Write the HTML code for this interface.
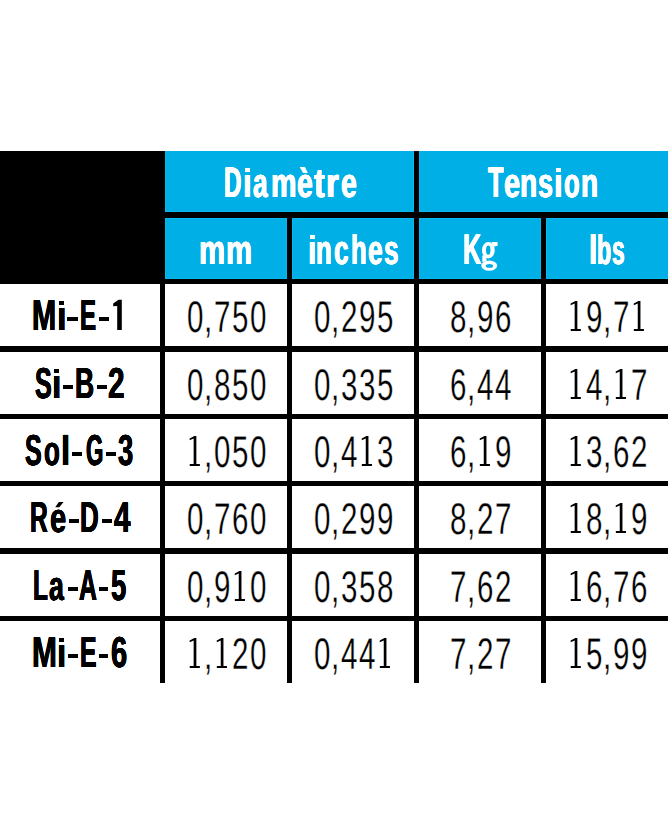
<!DOCTYPE html>
<html><head><meta charset="utf-8"><style>
html,body{margin:0;padding:0;background:#fff;}
body{width:668px;height:835px;position:relative;overflow:hidden;font-family:"Liberation Sans",sans-serif;}
body>div{position:absolute;}
.g{font-weight:700;color:#000;white-space:nowrap;transform-origin:0 0;text-rendering:geometricPrecision;}
.n{font-weight:400;color:#000;white-space:nowrap;transform-origin:0 0;text-rendering:geometricPrecision;}
.t{text-align:center;white-space:nowrap;box-sizing:border-box;text-rendering:geometricPrecision;}
</style></head><body>
<div style="left:0px;top:151px;width:668px;height:532px;background:#000"></div>
<div style="left:165px;top:151px;width:249px;height:61px;background:#00afe6;box-sizing:border-box;border-left:1px solid #04b9ee;border-right:1px solid #04b9ee;border-bottom:1px solid #04b9ee;"></div>
<div style="left:419px;top:151px;width:249px;height:61px;background:#00afe6;box-sizing:border-box;border-left:1px solid #04b9ee;border-bottom:1px solid #04b9ee;"></div>
<div style="left:165px;top:218px;width:122px;height:61px;background:#00afe6;box-sizing:border-box;border-left:1px solid #04b9ee;border-top:1px solid #04b9ee;border-bottom:1px solid #04b9ee;border-right:1px solid #04b9ee;"></div>
<div style="left:292px;top:218px;width:122px;height:61px;background:#00afe6;box-sizing:border-box;border-left:1px solid #04b9ee;border-top:1px solid #04b9ee;border-bottom:1px solid #04b9ee;border-right:1px solid #04b9ee;"></div>
<div style="left:419px;top:218px;width:122px;height:61px;background:#00afe6;box-sizing:border-box;border-left:1px solid #04b9ee;border-top:1px solid #04b9ee;border-bottom:1px solid #04b9ee;border-right:1px solid #04b9ee;"></div>
<div style="left:546px;top:218px;width:122px;height:61px;background:#00afe6;box-sizing:border-box;border-left:1px solid #04b9ee;border-top:1px solid #04b9ee;border-bottom:1px solid #04b9ee;"></div>
<div style="left:0px;top:284px;width:160px;height:62px;background:#fff"></div>
<div style="left:165px;top:284px;width:122px;height:62px;background:#fff"></div>
<div style="left:292px;top:284px;width:122px;height:62px;background:#fff"></div>
<div style="left:419px;top:284px;width:122px;height:62px;background:#fff"></div>
<div style="left:546px;top:284px;width:122px;height:62px;background:#fff"></div>
<div style="left:0px;top:352px;width:160px;height:62px;background:#fff"></div>
<div style="left:165px;top:352px;width:122px;height:62px;background:#fff"></div>
<div style="left:292px;top:352px;width:122px;height:62px;background:#fff"></div>
<div style="left:419px;top:352px;width:122px;height:62px;background:#fff"></div>
<div style="left:546px;top:352px;width:122px;height:62px;background:#fff"></div>
<div style="left:0px;top:419px;width:160px;height:62px;background:#fff"></div>
<div style="left:165px;top:419px;width:122px;height:62px;background:#fff"></div>
<div style="left:292px;top:419px;width:122px;height:62px;background:#fff"></div>
<div style="left:419px;top:419px;width:122px;height:62px;background:#fff"></div>
<div style="left:546px;top:419px;width:122px;height:62px;background:#fff"></div>
<div style="left:0px;top:486px;width:160px;height:62px;background:#fff"></div>
<div style="left:165px;top:486px;width:122px;height:62px;background:#fff"></div>
<div style="left:292px;top:486px;width:122px;height:62px;background:#fff"></div>
<div style="left:419px;top:486px;width:122px;height:62px;background:#fff"></div>
<div style="left:546px;top:486px;width:122px;height:62px;background:#fff"></div>
<div style="left:0px;top:554px;width:160px;height:62px;background:#fff"></div>
<div style="left:165px;top:554px;width:122px;height:62px;background:#fff"></div>
<div style="left:292px;top:554px;width:122px;height:62px;background:#fff"></div>
<div style="left:419px;top:554px;width:122px;height:62px;background:#fff"></div>
<div style="left:546px;top:554px;width:122px;height:62px;background:#fff"></div>
<div style="left:0px;top:621px;width:160px;height:62px;background:#fff"></div>
<div style="left:165px;top:621px;width:122px;height:62px;background:#fff"></div>
<div style="left:292px;top:621px;width:122px;height:62px;background:#fff"></div>
<div style="left:419px;top:621px;width:122px;height:62px;background:#fff"></div>
<div style="left:546px;top:621px;width:122px;height:62px;background:#fff"></div>
<div class="g" style="left:223.86px;top:158.00px;height:51.60px;line-height:51.60px;font-size:43.0px;color:#fff;transform:scaleX(0.5626);text-shadow:0.5px 0 0 #fff,-0.5px 0 0 #fff,0.25px 0 0 #fff,-0.25px 0 0 #fff;">D</div>
<div style="left:245.00px;top:168.10px;width:5.00px;height:3.70px;background:#fff"></div>
<div class="g" style="left:243.16px;top:158.00px;height:51.60px;line-height:51.60px;font-size:43.0px;color:#fff;transform:scale(0.7246,0.96);transform-origin:0 39px;text-shadow:0.5px 0 0 #fff,-0.5px 0 0 #fff,0.25px 0 0 #fff,-0.25px 0 0 #fff;">ı</div>
<div class="g" style="left:253.04px;top:158.00px;height:51.60px;line-height:51.60px;font-size:43.0px;color:#fff;transform:scale(0.6060,0.96);transform-origin:0 39px;text-shadow:0.5px 0 0 #fff,-0.5px 0 0 #fff,0.25px 0 0 #fff,-0.25px 0 0 #fff;">a</div>
<div class="g" style="left:270.64px;top:158.00px;height:51.60px;line-height:51.60px;font-size:43.0px;color:#fff;transform:scale(0.6670,0.96);transform-origin:0 39px;text-shadow:0.5px 0 0 #fff,-0.5px 0 0 #fff,0.25px 0 0 #fff,-0.25px 0 0 #fff;">m</div>
<svg style="position:absolute;left:160px;top:151px" width="260" height="61"><polygon points="139.70,16.10 145.00,16.10 147.80,21.90 143.10,21.90" fill="#fff"/></svg>
<div class="g" style="left:297.32px;top:158.00px;height:51.60px;line-height:51.60px;font-size:43.0px;color:#fff;transform:scale(0.6616,0.96);transform-origin:0 39px;text-shadow:0.5px 0 0 #fff,-0.5px 0 0 #fff,0.25px 0 0 #fff,-0.25px 0 0 #fff;">e</div>
<div class="g" style="left:314.08px;top:158.00px;height:51.60px;line-height:51.60px;font-size:43.0px;color:#fff;transform:scale(0.7498,0.96);transform-origin:0 39px;text-shadow:0.5px 0 0 #fff,-0.5px 0 0 #fff,0.25px 0 0 #fff,-0.25px 0 0 #fff;">t</div>
<div class="g" style="left:325.91px;top:158.00px;height:51.60px;line-height:51.60px;font-size:43.0px;color:#fff;transform:scale(0.7650,0.96);transform-origin:0 39px;text-shadow:0.5px 0 0 #fff,-0.5px 0 0 #fff,0.25px 0 0 #fff,-0.25px 0 0 #fff;">r</div>
<div class="g" style="left:340.52px;top:158.00px;height:51.60px;line-height:51.60px;font-size:43.0px;color:#fff;transform:scale(0.6616,0.96);transform-origin:0 39px;text-shadow:0.5px 0 0 #fff,-0.5px 0 0 #fff,0.25px 0 0 #fff,-0.25px 0 0 #fff;">e</div>
<div class="g" style="left:488.41px;top:158.00px;height:51.60px;line-height:51.60px;font-size:43.0px;color:#fff;transform:scaleX(0.5889);text-shadow:0.5px 0 0 #fff,-0.5px 0 0 #fff,0.25px 0 0 #fff,-0.25px 0 0 #fff;">T</div>
<div class="g" style="left:504.11px;top:158.00px;height:51.60px;line-height:51.60px;font-size:43.0px;color:#fff;transform:scale(0.6708,0.96);transform-origin:0 39px;text-shadow:0.5px 0 0 #fff,-0.5px 0 0 #fff,0.25px 0 0 #fff,-0.25px 0 0 #fff;">e</div>
<div class="g" style="left:520.17px;top:158.00px;height:51.60px;line-height:51.60px;font-size:43.0px;color:#fff;transform:scale(0.6570,0.96);transform-origin:0 39px;text-shadow:0.5px 0 0 #fff,-0.5px 0 0 #fff,0.25px 0 0 #fff,-0.25px 0 0 #fff;">n</div>
<div class="g" style="left:538.37px;top:158.00px;height:51.60px;line-height:51.60px;font-size:43.0px;color:#fff;transform:scale(0.6239,0.96);transform-origin:0 39px;text-shadow:0.5px 0 0 #fff,-0.5px 0 0 #fff,0.25px 0 0 #fff,-0.25px 0 0 #fff;">s</div>
<div style="left:556.00px;top:168.10px;width:5.00px;height:3.70px;background:#fff"></div>
<div class="g" style="left:554.16px;top:158.00px;height:51.60px;line-height:51.60px;font-size:43.0px;color:#fff;transform:scale(0.7246,0.96);transform-origin:0 39px;text-shadow:0.5px 0 0 #fff,-0.5px 0 0 #fff,0.25px 0 0 #fff,-0.25px 0 0 #fff;">ı</div>
<div class="g" style="left:564.20px;top:158.00px;height:51.60px;line-height:51.60px;font-size:43.0px;color:#fff;transform:scale(0.5940,0.96);transform-origin:0 39px;text-shadow:0.5px 0 0 #fff,-0.5px 0 0 #fff,0.25px 0 0 #fff,-0.25px 0 0 #fff;">o</div>
<div class="g" style="left:581.28px;top:158.00px;height:51.60px;line-height:51.60px;font-size:43.0px;color:#fff;transform:scale(0.6524,0.96);transform-origin:0 39px;text-shadow:0.5px 0 0 #fff,-0.5px 0 0 #fff,0.25px 0 0 #fff,-0.25px 0 0 #fff;">n</div>
<div class="g" style="left:199.37px;top:225.00px;height:51.60px;line-height:51.60px;font-size:43.0px;color:#fff;transform:scale(0.6840,0.96);transform-origin:0 39px;text-shadow:0.3px 0 0 #fff,-0.3px 0 0 #fff,0.15px 0 0 #fff,-0.15px 0 0 #fff;">m</div>
<div class="g" style="left:226.27px;top:225.00px;height:51.60px;line-height:51.60px;font-size:43.0px;color:#fff;transform:scale(0.6840,0.96);transform-origin:0 39px;text-shadow:0.3px 0 0 #fff,-0.3px 0 0 #fff,0.15px 0 0 #fff,-0.15px 0 0 #fff;">m</div>
<div style="left:310.10px;top:235.10px;width:4.50px;height:3.70px;background:#fff"></div>
<div class="g" style="left:308.20px;top:225.00px;height:51.60px;line-height:51.60px;font-size:43.0px;color:#fff;transform:scale(0.6923,0.96);transform-origin:0 39px;text-shadow:0.3px 0 0 #fff,-0.3px 0 0 #fff,0.15px 0 0 #fff,-0.15px 0 0 #fff;">ı</div>
<div class="g" style="left:316.28px;top:225.00px;height:51.60px;line-height:51.60px;font-size:43.0px;color:#fff;transform:scale(0.5991,0.96);transform-origin:0 39px;text-shadow:0.3px 0 0 #fff,-0.3px 0 0 #fff,0.15px 0 0 #fff,-0.15px 0 0 #fff;">n</div>
<div class="g" style="left:334.26px;top:225.00px;height:51.60px;line-height:51.60px;font-size:43.0px;color:#fff;transform:scale(0.6118,0.96);transform-origin:0 39px;text-shadow:0.3px 0 0 #fff,-0.3px 0 0 #fff,0.15px 0 0 #fff,-0.15px 0 0 #fff;">c</div>
<div class="g" style="left:350.59px;top:225.00px;height:51.60px;line-height:51.60px;font-size:43.0px;color:#fff;transform:scale(0.5944,0.96);transform-origin:0 39px;text-shadow:0.3px 0 0 #fff,-0.3px 0 0 #fff,0.15px 0 0 #fff,-0.15px 0 0 #fff;">h</div>
<div class="g" style="left:368.25px;top:225.00px;height:51.60px;line-height:51.60px;font-size:43.0px;color:#fff;transform:scale(0.6131,0.96);transform-origin:0 39px;text-shadow:0.3px 0 0 #fff,-0.3px 0 0 #fff,0.15px 0 0 #fff,-0.15px 0 0 #fff;">e</div>
<div class="g" style="left:384.36px;top:225.00px;height:51.60px;line-height:51.60px;font-size:43.0px;color:#fff;transform:scale(0.6074,0.96);transform-origin:0 39px;text-shadow:0.3px 0 0 #fff,-0.3px 0 0 #fff,0.15px 0 0 #fff,-0.15px 0 0 #fff;">s</div>
<div class="g" style="left:462.50px;top:225.00px;height:51.60px;line-height:51.60px;font-size:43.0px;color:#fff;transform:scaleX(0.5814);text-shadow:0.3px 0 0 #fff,-0.3px 0 0 #fff,0.15px 0 0 #fff,-0.15px 0 0 #fff;">K</div>
<svg style="position:absolute;left:419px;top:218px" width="122" height="61"><path fill="#fff" fill-rule="evenodd" d="M62.90,32.30 a6.45,8.2 0 1,0 12.9,0 a6.45,8.2 0 1,0 -12.9,0 Z M67.00,32.15 a2.25,4.65 0 1,0 4.5,0 a2.25,4.65 0 1,0 -4.5,0 Z"/><path fill="#fff" fill-rule="evenodd" d="M62.20,47.60 a8.0,5.2 0 1,0 16.0,0 a8.0,5.2 0 1,0 -16.0,0 Z M66.80,47.95 a3.65,1.85 0 1,0 7.3,0 a3.65,1.85 0 1,0 -7.3,0 Z"/><g fill="#fff"><polygon points="72.50,24.10 78.60,24.10 78.60,27.80 74.50,28.80"/><polygon points="63.30,37.50 67.50,37.50 67.50,43.30 63.30,44.00"/></g></svg>
<div class="g" style="left:588.93px;top:225.00px;height:51.60px;line-height:51.60px;font-size:43.0px;color:#fff;transform:scale(0.6923,0.96);transform-origin:0 39px;text-shadow:0.3px 0 0 #fff,-0.3px 0 0 #fff,0.15px 0 0 #fff,-0.15px 0 0 #fff;">l</div>
<div class="g" style="left:597.43px;top:225.00px;height:51.60px;line-height:51.60px;font-size:43.0px;color:#fff;transform:scale(0.5389,0.96);transform-origin:0 39px;text-shadow:0.3px 0 0 #fff,-0.3px 0 0 #fff,0.15px 0 0 #fff,-0.15px 0 0 #fff;">b</div>
<div class="g" style="left:611.66px;top:225.00px;height:51.60px;line-height:51.60px;font-size:43.0px;color:#fff;transform:scale(0.5273,0.96);transform-origin:0 39px;text-shadow:0.3px 0 0 #fff,-0.3px 0 0 #fff,0.15px 0 0 #fff,-0.15px 0 0 #fff;">s</div>
<div class="g" style="left:32.33px;top:291.00px;height:51.84px;line-height:51.84px;font-size:43.2px;transform:scaleX(0.6709);text-shadow:0.25px 0 0 #000,-0.25px 0 0 #000,0.125px 0 0 #000,-0.125px 0 0 #000;">M</div>
<div style="left:59.00px;top:301.00px;width:5.10px;height:3.60px;background:#000"></div>
<div class="g" style="left:56.77px;top:291.00px;height:51.84px;line-height:51.84px;font-size:43.2px;transform:scale(0.7935,0.96);transform-origin:0 39px;text-shadow:0.25px 0 0 #000,-0.25px 0 0 #000,0.125px 0 0 #000,-0.125px 0 0 #000;">ı</div>
<div style="left:67.40px;top:317.40px;width:10.20px;height:3.50px;background:#000"></div>
<div class="g" style="left:79.93px;top:291.00px;height:51.84px;line-height:51.84px;font-size:43.2px;transform:scaleX(0.5579);text-shadow:0.25px 0 0 #000,-0.25px 0 0 #000,0.125px 0 0 #000,-0.125px 0 0 #000;">E</div>
<div style="left:99.00px;top:317.40px;width:9.70px;height:3.50px;background:#000"></div>
<svg style="position:absolute;left:0px;top:284px" width="160" height="62"><polygon points="121.80,15.80 121.80,46.00 117.20,46.00 117.20,22.00 113.20,22.30 113.20,19.40 118.50,15.80" fill="#000"/></svg>
<div class="n" style="left:186.73px;top:291.00px;height:53.16px;line-height:53.16px;font-size:44.3px;transform:scaleX(0.6670);-webkit-text-stroke:0.3px #fff;">0</div>
<div class="n" style="left:204.40px;top:291.00px;height:53.16px;line-height:53.16px;font-size:44.3px;transform:scaleX(0.6670);-webkit-text-stroke:0.3px #fff;">,</div>
<div class="n" style="left:213.82px;top:291.00px;height:53.16px;line-height:53.16px;font-size:44.3px;transform:scaleX(0.6670);-webkit-text-stroke:0.3px #fff;">7</div>
<div class="n" style="left:231.86px;top:291.00px;height:53.16px;line-height:53.16px;font-size:44.3px;transform:scaleX(0.6670);-webkit-text-stroke:0.3px #fff;">5</div>
<div class="n" style="left:249.83px;top:291.00px;height:53.16px;line-height:53.16px;font-size:44.3px;transform:scaleX(0.6670);-webkit-text-stroke:0.3px #fff;">0</div>
<div class="n" style="left:313.73px;top:291.00px;height:53.16px;line-height:53.16px;font-size:44.3px;transform:scaleX(0.6670);-webkit-text-stroke:0.3px #fff;">0</div>
<div class="n" style="left:331.40px;top:291.00px;height:53.16px;line-height:53.16px;font-size:44.3px;transform:scaleX(0.6670);-webkit-text-stroke:0.3px #fff;">,</div>
<div class="n" style="left:340.83px;top:291.00px;height:53.16px;line-height:53.16px;font-size:44.3px;transform:scaleX(0.6670);-webkit-text-stroke:0.3px #fff;">2</div>
<div class="n" style="left:358.84px;top:291.00px;height:53.16px;line-height:53.16px;font-size:44.3px;transform:scaleX(0.6670);-webkit-text-stroke:0.3px #fff;">9</div>
<div class="n" style="left:376.86px;top:291.00px;height:53.16px;line-height:53.16px;font-size:44.3px;transform:scaleX(0.6670);-webkit-text-stroke:0.3px #fff;">5</div>
<div class="n" style="left:449.73px;top:291.00px;height:53.16px;line-height:53.16px;font-size:44.3px;transform:scaleX(0.6670);-webkit-text-stroke:0.3px #fff;">8</div>
<div class="n" style="left:467.40px;top:291.00px;height:53.16px;line-height:53.16px;font-size:44.3px;transform:scaleX(0.6670);-webkit-text-stroke:0.3px #fff;">,</div>
<div class="n" style="left:476.84px;top:291.00px;height:53.16px;line-height:53.16px;font-size:44.3px;transform:scaleX(0.6670);-webkit-text-stroke:0.3px #fff;">9</div>
<div class="n" style="left:494.73px;top:291.00px;height:53.16px;line-height:53.16px;font-size:44.3px;transform:scaleX(0.6670);-webkit-text-stroke:0.3px #fff;">6</div>
<svg style="position:absolute;left:546px;top:284px" width="122" height="62"><polygon points="29.35,17.10 31.35,17.10 31.35,44.90 34.85,44.90 34.85,47.00 24.75,47.00 24.75,44.90 28.65,44.90 28.65,19.60 24.65,21.20 24.65,19.50" fill="#000"/></svg>
<div class="n" style="left:585.74px;top:291.00px;height:53.16px;line-height:53.16px;font-size:44.3px;transform:scaleX(0.6670);-webkit-text-stroke:0.3px #fff;">9</div>
<div class="n" style="left:603.40px;top:291.00px;height:53.16px;line-height:53.16px;font-size:44.3px;transform:scaleX(0.6670);-webkit-text-stroke:0.3px #fff;">,</div>
<div class="n" style="left:612.82px;top:291.00px;height:53.16px;line-height:53.16px;font-size:44.3px;transform:scaleX(0.6670);-webkit-text-stroke:0.3px #fff;">7</div>
<svg style="position:absolute;left:546px;top:284px" width="122" height="62"><polygon points="92.45,17.10 94.45,17.10 94.45,44.90 97.95,44.90 97.95,47.00 87.85,47.00 87.85,44.90 91.75,44.90 91.75,19.60 87.75,21.20 87.75,19.50" fill="#000"/></svg>
<div class="g" style="left:34.52px;top:359.00px;height:51.84px;line-height:51.84px;font-size:43.2px;transform:scaleX(0.5799);text-shadow:0.25px 0 0 #000,-0.25px 0 0 #000,0.125px 0 0 #000,-0.125px 0 0 #000;">S</div>
<div style="left:54.00px;top:369.00px;width:5.00px;height:3.60px;background:#000"></div>
<div class="g" style="left:51.82px;top:359.00px;height:51.84px;line-height:51.84px;font-size:43.2px;transform:scale(0.7779,0.96);transform-origin:0 39px;text-shadow:0.25px 0 0 #000,-0.25px 0 0 #000,0.125px 0 0 #000,-0.125px 0 0 #000;">ı</div>
<div style="left:62.90px;top:385.40px;width:10.10px;height:3.50px;background:#000"></div>
<div class="g" style="left:75.18px;top:359.00px;height:51.84px;line-height:51.84px;font-size:43.2px;transform:scaleX(0.6146);text-shadow:0.25px 0 0 #000,-0.25px 0 0 #000,0.125px 0 0 #000,-0.125px 0 0 #000;">B</div>
<div style="left:96.70px;top:385.40px;width:10.10px;height:3.50px;background:#000"></div>
<div class="g" style="left:108.44px;top:359.00px;height:51.84px;line-height:51.84px;font-size:43.2px;transform:scaleX(0.6902);text-shadow:0.25px 0 0 #000,-0.25px 0 0 #000,0.125px 0 0 #000,-0.125px 0 0 #000;">2</div>
<div class="n" style="left:186.73px;top:359.00px;height:53.16px;line-height:53.16px;font-size:44.3px;transform:scaleX(0.6670);-webkit-text-stroke:0.3px #fff;">0</div>
<div class="n" style="left:204.40px;top:359.00px;height:53.16px;line-height:53.16px;font-size:44.3px;transform:scaleX(0.6670);-webkit-text-stroke:0.3px #fff;">,</div>
<div class="n" style="left:213.83px;top:359.00px;height:53.16px;line-height:53.16px;font-size:44.3px;transform:scaleX(0.6670);-webkit-text-stroke:0.3px #fff;">8</div>
<div class="n" style="left:231.86px;top:359.00px;height:53.16px;line-height:53.16px;font-size:44.3px;transform:scaleX(0.6670);-webkit-text-stroke:0.3px #fff;">5</div>
<div class="n" style="left:249.83px;top:359.00px;height:53.16px;line-height:53.16px;font-size:44.3px;transform:scaleX(0.6670);-webkit-text-stroke:0.3px #fff;">0</div>
<div class="n" style="left:313.73px;top:359.00px;height:53.16px;line-height:53.16px;font-size:44.3px;transform:scaleX(0.6670);-webkit-text-stroke:0.3px #fff;">0</div>
<div class="n" style="left:331.40px;top:359.00px;height:53.16px;line-height:53.16px;font-size:44.3px;transform:scaleX(0.6670);-webkit-text-stroke:0.3px #fff;">,</div>
<div class="n" style="left:340.92px;top:359.00px;height:53.16px;line-height:53.16px;font-size:44.3px;transform:scaleX(0.6670);-webkit-text-stroke:0.3px #fff;">3</div>
<div class="n" style="left:358.92px;top:359.00px;height:53.16px;line-height:53.16px;font-size:44.3px;transform:scaleX(0.6670);-webkit-text-stroke:0.3px #fff;">3</div>
<div class="n" style="left:376.86px;top:359.00px;height:53.16px;line-height:53.16px;font-size:44.3px;transform:scaleX(0.6670);-webkit-text-stroke:0.3px #fff;">5</div>
<div class="n" style="left:449.63px;top:359.00px;height:53.16px;line-height:53.16px;font-size:44.3px;transform:scaleX(0.6670);-webkit-text-stroke:0.3px #fff;">6</div>
<div class="n" style="left:467.40px;top:359.00px;height:53.16px;line-height:53.16px;font-size:44.3px;transform:scaleX(0.6670);-webkit-text-stroke:0.3px #fff;">,</div>
<div class="n" style="left:476.93px;top:359.00px;height:53.16px;line-height:53.16px;font-size:44.3px;transform:scaleX(0.6670);-webkit-text-stroke:0.3px #fff;">4</div>
<div class="n" style="left:494.93px;top:359.00px;height:53.16px;line-height:53.16px;font-size:44.3px;transform:scaleX(0.6670);-webkit-text-stroke:0.3px #fff;">4</div>
<svg style="position:absolute;left:546px;top:352px" width="122" height="62"><polygon points="29.35,17.10 31.35,17.10 31.35,44.90 34.85,44.90 34.85,47.00 24.75,47.00 24.75,44.90 28.65,44.90 28.65,19.60 24.65,21.20 24.65,19.50" fill="#000"/></svg>
<div class="n" style="left:585.83px;top:359.00px;height:53.16px;line-height:53.16px;font-size:44.3px;transform:scaleX(0.6670);-webkit-text-stroke:0.3px #fff;">4</div>
<div class="n" style="left:603.40px;top:359.00px;height:53.16px;line-height:53.16px;font-size:44.3px;transform:scaleX(0.6670);-webkit-text-stroke:0.3px #fff;">,</div>
<svg style="position:absolute;left:546px;top:352px" width="122" height="62"><polygon points="74.45,17.10 76.45,17.10 76.45,44.90 79.95,44.90 79.95,47.00 69.85,47.00 69.85,44.90 73.75,44.90 73.75,19.60 69.75,21.20 69.75,19.50" fill="#000"/></svg>
<div class="n" style="left:630.82px;top:359.00px;height:53.16px;line-height:53.16px;font-size:44.3px;transform:scaleX(0.6670);-webkit-text-stroke:0.3px #fff;">7</div>
<div class="g" style="left:25.42px;top:426.00px;height:51.84px;line-height:51.84px;font-size:43.2px;transform:scaleX(0.5799);text-shadow:0.25px 0 0 #000,-0.25px 0 0 #000,0.125px 0 0 #000,-0.125px 0 0 #000;">S</div>
<div class="g" style="left:44.34px;top:426.00px;height:51.84px;line-height:51.84px;font-size:43.2px;transform:scale(0.5997,0.96);transform-origin:0 39px;text-shadow:0.25px 0 0 #000,-0.25px 0 0 #000,0.125px 0 0 #000,-0.125px 0 0 #000;">o</div>
<div class="g" style="left:60.99px;top:426.00px;height:51.84px;line-height:51.84px;font-size:43.2px;transform:scale(0.7624,0.96);transform-origin:0 39px;text-shadow:0.25px 0 0 #000,-0.25px 0 0 #000,0.125px 0 0 #000,-0.125px 0 0 #000;">l</div>
<div style="left:71.90px;top:452.40px;width:9.90px;height:3.50px;background:#000"></div>
<div class="g" style="left:85.71px;top:426.00px;height:51.84px;line-height:51.84px;font-size:43.2px;transform:scaleX(0.5160);text-shadow:0.25px 0 0 #000,-0.25px 0 0 #000,0.125px 0 0 #000,-0.125px 0 0 #000;">G</div>
<div style="left:105.90px;top:452.40px;width:9.80px;height:3.50px;background:#000"></div>
<div class="g" style="left:118.43px;top:426.00px;height:51.84px;line-height:51.84px;font-size:43.2px;transform:scaleX(0.6326);text-shadow:0.25px 0 0 #000,-0.25px 0 0 #000,0.125px 0 0 #000,-0.125px 0 0 #000;">3</div>
<svg style="position:absolute;left:165px;top:419px" width="122" height="62"><polygon points="29.35,17.10 31.35,17.10 31.35,44.90 34.85,44.90 34.85,47.00 24.75,47.00 24.75,44.90 28.65,44.90 28.65,19.60 24.65,21.20 24.65,19.50" fill="#000"/></svg>
<div class="n" style="left:204.40px;top:426.00px;height:53.16px;line-height:53.16px;font-size:44.3px;transform:scaleX(0.6670);-webkit-text-stroke:0.3px #fff;">,</div>
<div class="n" style="left:213.83px;top:426.00px;height:53.16px;line-height:53.16px;font-size:44.3px;transform:scaleX(0.6670);-webkit-text-stroke:0.3px #fff;">0</div>
<div class="n" style="left:231.86px;top:426.00px;height:53.16px;line-height:53.16px;font-size:44.3px;transform:scaleX(0.6670);-webkit-text-stroke:0.3px #fff;">5</div>
<div class="n" style="left:249.83px;top:426.00px;height:53.16px;line-height:53.16px;font-size:44.3px;transform:scaleX(0.6670);-webkit-text-stroke:0.3px #fff;">0</div>
<div class="n" style="left:313.73px;top:426.00px;height:53.16px;line-height:53.16px;font-size:44.3px;transform:scaleX(0.6670);-webkit-text-stroke:0.3px #fff;">0</div>
<div class="n" style="left:331.40px;top:426.00px;height:53.16px;line-height:53.16px;font-size:44.3px;transform:scaleX(0.6670);-webkit-text-stroke:0.3px #fff;">,</div>
<div class="n" style="left:340.93px;top:426.00px;height:53.16px;line-height:53.16px;font-size:44.3px;transform:scaleX(0.6670);-webkit-text-stroke:0.3px #fff;">4</div>
<svg style="position:absolute;left:292px;top:419px" width="122" height="62"><polygon points="74.45,17.10 76.45,17.10 76.45,44.90 79.95,44.90 79.95,47.00 69.85,47.00 69.85,44.90 73.75,44.90 73.75,19.60 69.75,21.20 69.75,19.50" fill="#000"/></svg>
<div class="n" style="left:376.92px;top:426.00px;height:53.16px;line-height:53.16px;font-size:44.3px;transform:scaleX(0.6670);-webkit-text-stroke:0.3px #fff;">3</div>
<div class="n" style="left:449.63px;top:426.00px;height:53.16px;line-height:53.16px;font-size:44.3px;transform:scaleX(0.6670);-webkit-text-stroke:0.3px #fff;">6</div>
<div class="n" style="left:467.40px;top:426.00px;height:53.16px;line-height:53.16px;font-size:44.3px;transform:scaleX(0.6670);-webkit-text-stroke:0.3px #fff;">,</div>
<svg style="position:absolute;left:419px;top:419px" width="122" height="62"><polygon points="65.45,17.10 67.45,17.10 67.45,44.90 70.95,44.90 70.95,47.00 60.85,47.00 60.85,44.90 64.75,44.90 64.75,19.60 60.75,21.20 60.75,19.50" fill="#000"/></svg>
<div class="n" style="left:494.84px;top:426.00px;height:53.16px;line-height:53.16px;font-size:44.3px;transform:scaleX(0.6670);-webkit-text-stroke:0.3px #fff;">9</div>
<svg style="position:absolute;left:546px;top:419px" width="122" height="62"><polygon points="29.35,17.10 31.35,17.10 31.35,44.90 34.85,44.90 34.85,47.00 24.75,47.00 24.75,44.90 28.65,44.90 28.65,19.60 24.65,21.20 24.65,19.50" fill="#000"/></svg>
<div class="n" style="left:585.82px;top:426.00px;height:53.16px;line-height:53.16px;font-size:44.3px;transform:scaleX(0.6670);-webkit-text-stroke:0.3px #fff;">3</div>
<div class="n" style="left:603.40px;top:426.00px;height:53.16px;line-height:53.16px;font-size:44.3px;transform:scaleX(0.6670);-webkit-text-stroke:0.3px #fff;">,</div>
<div class="n" style="left:612.73px;top:426.00px;height:53.16px;line-height:53.16px;font-size:44.3px;transform:scaleX(0.6670);-webkit-text-stroke:0.3px #fff;">6</div>
<div class="n" style="left:630.83px;top:426.00px;height:53.16px;line-height:53.16px;font-size:44.3px;transform:scaleX(0.6670);-webkit-text-stroke:0.3px #fff;">2</div>
<div class="g" style="left:29.90px;top:493.00px;height:51.84px;line-height:51.84px;font-size:43.2px;transform:scaleX(0.5694);text-shadow:0.25px 0 0 #000,-0.25px 0 0 #000,0.125px 0 0 #000,-0.125px 0 0 #000;">R</div>
<svg style="position:absolute;left:0px;top:486px" width="160" height="62"><polygon points="58.80,16.00 63.60,16.00 59.30,21.30 55.20,21.30" fill="#000"/></svg>
<div class="g" style="left:49.93px;top:493.00px;height:51.84px;line-height:51.84px;font-size:43.2px;transform:scale(0.6741,0.96);transform-origin:0 39px;text-shadow:0.25px 0 0 #000,-0.25px 0 0 #000,0.125px 0 0 #000,-0.125px 0 0 #000;">e</div>
<div style="left:68.90px;top:519.40px;width:9.90px;height:3.50px;background:#000"></div>
<div class="g" style="left:80.42px;top:493.00px;height:51.84px;line-height:51.84px;font-size:43.2px;transform:scaleX(0.6001);text-shadow:0.25px 0 0 #000,-0.25px 0 0 #000,0.125px 0 0 #000,-0.125px 0 0 #000;">D</div>
<div style="left:101.80px;top:519.40px;width:9.90px;height:3.50px;background:#000"></div>
<div class="g" style="left:114.12px;top:493.00px;height:51.84px;line-height:51.84px;font-size:43.2px;transform:scaleX(0.6853);text-shadow:0.25px 0 0 #000,-0.25px 0 0 #000,0.125px 0 0 #000,-0.125px 0 0 #000;">4</div>
<div class="n" style="left:186.73px;top:493.00px;height:53.16px;line-height:53.16px;font-size:44.3px;transform:scaleX(0.6670);-webkit-text-stroke:0.3px #fff;">0</div>
<div class="n" style="left:204.40px;top:493.00px;height:53.16px;line-height:53.16px;font-size:44.3px;transform:scaleX(0.6670);-webkit-text-stroke:0.3px #fff;">,</div>
<div class="n" style="left:213.82px;top:493.00px;height:53.16px;line-height:53.16px;font-size:44.3px;transform:scaleX(0.6670);-webkit-text-stroke:0.3px #fff;">7</div>
<div class="n" style="left:231.73px;top:493.00px;height:53.16px;line-height:53.16px;font-size:44.3px;transform:scaleX(0.6670);-webkit-text-stroke:0.3px #fff;">6</div>
<div class="n" style="left:249.83px;top:493.00px;height:53.16px;line-height:53.16px;font-size:44.3px;transform:scaleX(0.6670);-webkit-text-stroke:0.3px #fff;">0</div>
<div class="n" style="left:313.73px;top:493.00px;height:53.16px;line-height:53.16px;font-size:44.3px;transform:scaleX(0.6670);-webkit-text-stroke:0.3px #fff;">0</div>
<div class="n" style="left:331.40px;top:493.00px;height:53.16px;line-height:53.16px;font-size:44.3px;transform:scaleX(0.6670);-webkit-text-stroke:0.3px #fff;">,</div>
<div class="n" style="left:340.83px;top:493.00px;height:53.16px;line-height:53.16px;font-size:44.3px;transform:scaleX(0.6670);-webkit-text-stroke:0.3px #fff;">2</div>
<div class="n" style="left:358.84px;top:493.00px;height:53.16px;line-height:53.16px;font-size:44.3px;transform:scaleX(0.6670);-webkit-text-stroke:0.3px #fff;">9</div>
<div class="n" style="left:376.84px;top:493.00px;height:53.16px;line-height:53.16px;font-size:44.3px;transform:scaleX(0.6670);-webkit-text-stroke:0.3px #fff;">9</div>
<div class="n" style="left:449.73px;top:493.00px;height:53.16px;line-height:53.16px;font-size:44.3px;transform:scaleX(0.6670);-webkit-text-stroke:0.3px #fff;">8</div>
<div class="n" style="left:467.40px;top:493.00px;height:53.16px;line-height:53.16px;font-size:44.3px;transform:scaleX(0.6670);-webkit-text-stroke:0.3px #fff;">,</div>
<div class="n" style="left:476.83px;top:493.00px;height:53.16px;line-height:53.16px;font-size:44.3px;transform:scaleX(0.6670);-webkit-text-stroke:0.3px #fff;">2</div>
<div class="n" style="left:494.82px;top:493.00px;height:53.16px;line-height:53.16px;font-size:44.3px;transform:scaleX(0.6670);-webkit-text-stroke:0.3px #fff;">7</div>
<svg style="position:absolute;left:546px;top:486px" width="122" height="62"><polygon points="29.35,17.10 31.35,17.10 31.35,44.90 34.85,44.90 34.85,47.00 24.75,47.00 24.75,44.90 28.65,44.90 28.65,19.60 24.65,21.20 24.65,19.50" fill="#000"/></svg>
<div class="n" style="left:585.73px;top:493.00px;height:53.16px;line-height:53.16px;font-size:44.3px;transform:scaleX(0.6670);-webkit-text-stroke:0.3px #fff;">8</div>
<div class="n" style="left:603.40px;top:493.00px;height:53.16px;line-height:53.16px;font-size:44.3px;transform:scaleX(0.6670);-webkit-text-stroke:0.3px #fff;">,</div>
<svg style="position:absolute;left:546px;top:486px" width="122" height="62"><polygon points="74.45,17.10 76.45,17.10 76.45,44.90 79.95,44.90 79.95,47.00 69.85,47.00 69.85,44.90 73.75,44.90 73.75,19.60 69.75,21.20 69.75,19.50" fill="#000"/></svg>
<div class="n" style="left:630.84px;top:493.00px;height:53.16px;line-height:53.16px;font-size:44.3px;transform:scaleX(0.6670);-webkit-text-stroke:0.3px #fff;">9</div>
<div class="g" style="left:32.61px;top:561.00px;height:51.84px;line-height:51.84px;font-size:43.2px;transform:scaleX(0.5646);text-shadow:0.25px 0 0 #000,-0.25px 0 0 #000,0.125px 0 0 #000,-0.125px 0 0 #000;">L</div>
<div class="g" style="left:48.77px;top:561.00px;height:51.84px;line-height:51.84px;font-size:43.2px;transform:scale(0.6161,0.96);transform-origin:0 39px;text-shadow:0.25px 0 0 #000,-0.25px 0 0 #000,0.125px 0 0 #000,-0.125px 0 0 #000;">a</div>
<div style="left:67.50px;top:587.40px;width:10.40px;height:3.50px;background:#000"></div>
<div class="g" style="left:79.03px;top:561.00px;height:51.84px;line-height:51.84px;font-size:43.2px;transform:scaleX(0.5732);text-shadow:0.25px 0 0 #000,-0.25px 0 0 #000,0.125px 0 0 #000,-0.125px 0 0 #000;">A</div>
<div style="left:99.10px;top:587.40px;width:9.40px;height:3.50px;background:#000"></div>
<div class="g" style="left:111.41px;top:561.00px;height:51.84px;line-height:51.84px;font-size:43.2px;transform:scaleX(0.6365);text-shadow:0.25px 0 0 #000,-0.25px 0 0 #000,0.125px 0 0 #000,-0.125px 0 0 #000;">5</div>
<div class="n" style="left:186.73px;top:561.00px;height:53.16px;line-height:53.16px;font-size:44.3px;transform:scaleX(0.6670);-webkit-text-stroke:0.3px #fff;">0</div>
<div class="n" style="left:204.40px;top:561.00px;height:53.16px;line-height:53.16px;font-size:44.3px;transform:scaleX(0.6670);-webkit-text-stroke:0.3px #fff;">,</div>
<div class="n" style="left:213.84px;top:561.00px;height:53.16px;line-height:53.16px;font-size:44.3px;transform:scaleX(0.6670);-webkit-text-stroke:0.3px #fff;">9</div>
<svg style="position:absolute;left:165px;top:554px" width="122" height="62"><polygon points="74.45,17.10 76.45,17.10 76.45,44.90 79.95,44.90 79.95,47.00 69.85,47.00 69.85,44.90 73.75,44.90 73.75,19.60 69.75,21.20 69.75,19.50" fill="#000"/></svg>
<div class="n" style="left:249.83px;top:561.00px;height:53.16px;line-height:53.16px;font-size:44.3px;transform:scaleX(0.6670);-webkit-text-stroke:0.3px #fff;">0</div>
<div class="n" style="left:313.73px;top:561.00px;height:53.16px;line-height:53.16px;font-size:44.3px;transform:scaleX(0.6670);-webkit-text-stroke:0.3px #fff;">0</div>
<div class="n" style="left:331.40px;top:561.00px;height:53.16px;line-height:53.16px;font-size:44.3px;transform:scaleX(0.6670);-webkit-text-stroke:0.3px #fff;">,</div>
<div class="n" style="left:340.92px;top:561.00px;height:53.16px;line-height:53.16px;font-size:44.3px;transform:scaleX(0.6670);-webkit-text-stroke:0.3px #fff;">3</div>
<div class="n" style="left:358.86px;top:561.00px;height:53.16px;line-height:53.16px;font-size:44.3px;transform:scaleX(0.6670);-webkit-text-stroke:0.3px #fff;">5</div>
<div class="n" style="left:376.83px;top:561.00px;height:53.16px;line-height:53.16px;font-size:44.3px;transform:scaleX(0.6670);-webkit-text-stroke:0.3px #fff;">8</div>
<div class="n" style="left:449.72px;top:561.00px;height:53.16px;line-height:53.16px;font-size:44.3px;transform:scaleX(0.6670);-webkit-text-stroke:0.3px #fff;">7</div>
<div class="n" style="left:467.40px;top:561.00px;height:53.16px;line-height:53.16px;font-size:44.3px;transform:scaleX(0.6670);-webkit-text-stroke:0.3px #fff;">,</div>
<div class="n" style="left:476.73px;top:561.00px;height:53.16px;line-height:53.16px;font-size:44.3px;transform:scaleX(0.6670);-webkit-text-stroke:0.3px #fff;">6</div>
<div class="n" style="left:494.83px;top:561.00px;height:53.16px;line-height:53.16px;font-size:44.3px;transform:scaleX(0.6670);-webkit-text-stroke:0.3px #fff;">2</div>
<svg style="position:absolute;left:546px;top:554px" width="122" height="62"><polygon points="29.35,17.10 31.35,17.10 31.35,44.90 34.85,44.90 34.85,47.00 24.75,47.00 24.75,44.90 28.65,44.90 28.65,19.60 24.65,21.20 24.65,19.50" fill="#000"/></svg>
<div class="n" style="left:585.63px;top:561.00px;height:53.16px;line-height:53.16px;font-size:44.3px;transform:scaleX(0.6670);-webkit-text-stroke:0.3px #fff;">6</div>
<div class="n" style="left:603.40px;top:561.00px;height:53.16px;line-height:53.16px;font-size:44.3px;transform:scaleX(0.6670);-webkit-text-stroke:0.3px #fff;">,</div>
<div class="n" style="left:612.82px;top:561.00px;height:53.16px;line-height:53.16px;font-size:44.3px;transform:scaleX(0.6670);-webkit-text-stroke:0.3px #fff;">7</div>
<div class="n" style="left:630.73px;top:561.00px;height:53.16px;line-height:53.16px;font-size:44.3px;transform:scaleX(0.6670);-webkit-text-stroke:0.3px #fff;">6</div>
<div class="g" style="left:31.98px;top:628.00px;height:51.84px;line-height:51.84px;font-size:43.2px;transform:scaleX(0.6904);text-shadow:0.25px 0 0 #000,-0.25px 0 0 #000,0.125px 0 0 #000,-0.125px 0 0 #000;">M</div>
<div style="left:59.00px;top:638.00px;width:4.90px;height:3.60px;background:#000"></div>
<div class="g" style="left:56.86px;top:628.00px;height:51.84px;line-height:51.84px;font-size:43.2px;transform:scale(0.7624,0.96);transform-origin:0 39px;text-shadow:0.25px 0 0 #000,-0.25px 0 0 #000,0.125px 0 0 #000,-0.125px 0 0 #000;">ı</div>
<div style="left:67.50px;top:654.40px;width:10.40px;height:3.50px;background:#000"></div>
<div class="g" style="left:79.78px;top:628.00px;height:51.84px;line-height:51.84px;font-size:43.2px;transform:scaleX(0.5740);text-shadow:0.25px 0 0 #000,-0.25px 0 0 #000,0.125px 0 0 #000,-0.125px 0 0 #000;">E</div>
<div style="left:98.70px;top:654.40px;width:9.80px;height:3.50px;background:#000"></div>
<div class="g" style="left:110.80px;top:628.00px;height:51.84px;line-height:51.84px;font-size:43.2px;transform:scaleX(0.6734);text-shadow:0.25px 0 0 #000,-0.25px 0 0 #000,0.125px 0 0 #000,-0.125px 0 0 #000;">6</div>
<svg style="position:absolute;left:165px;top:621px" width="122" height="62"><polygon points="29.35,17.10 31.35,17.10 31.35,44.90 34.85,44.90 34.85,47.00 24.75,47.00 24.75,44.90 28.65,44.90 28.65,19.60 24.65,21.20 24.65,19.50" fill="#000"/></svg>
<div class="n" style="left:204.40px;top:628.00px;height:53.16px;line-height:53.16px;font-size:44.3px;transform:scaleX(0.6670);-webkit-text-stroke:0.3px #fff;">,</div>
<svg style="position:absolute;left:165px;top:621px" width="122" height="62"><polygon points="56.45,17.10 58.45,17.10 58.45,44.90 61.95,44.90 61.95,47.00 51.85,47.00 51.85,44.90 55.75,44.90 55.75,19.60 51.75,21.20 51.75,19.50" fill="#000"/></svg>
<div class="n" style="left:231.83px;top:628.00px;height:53.16px;line-height:53.16px;font-size:44.3px;transform:scaleX(0.6670);-webkit-text-stroke:0.3px #fff;">2</div>
<div class="n" style="left:249.83px;top:628.00px;height:53.16px;line-height:53.16px;font-size:44.3px;transform:scaleX(0.6670);-webkit-text-stroke:0.3px #fff;">0</div>
<div class="n" style="left:313.73px;top:628.00px;height:53.16px;line-height:53.16px;font-size:44.3px;transform:scaleX(0.6670);-webkit-text-stroke:0.3px #fff;">0</div>
<div class="n" style="left:331.40px;top:628.00px;height:53.16px;line-height:53.16px;font-size:44.3px;transform:scaleX(0.6670);-webkit-text-stroke:0.3px #fff;">,</div>
<div class="n" style="left:340.93px;top:628.00px;height:53.16px;line-height:53.16px;font-size:44.3px;transform:scaleX(0.6670);-webkit-text-stroke:0.3px #fff;">4</div>
<div class="n" style="left:358.93px;top:628.00px;height:53.16px;line-height:53.16px;font-size:44.3px;transform:scaleX(0.6670);-webkit-text-stroke:0.3px #fff;">4</div>
<svg style="position:absolute;left:292px;top:621px" width="122" height="62"><polygon points="92.45,17.10 94.45,17.10 94.45,44.90 97.95,44.90 97.95,47.00 87.85,47.00 87.85,44.90 91.75,44.90 91.75,19.60 87.75,21.20 87.75,19.50" fill="#000"/></svg>
<div class="n" style="left:449.72px;top:628.00px;height:53.16px;line-height:53.16px;font-size:44.3px;transform:scaleX(0.6670);-webkit-text-stroke:0.3px #fff;">7</div>
<div class="n" style="left:467.40px;top:628.00px;height:53.16px;line-height:53.16px;font-size:44.3px;transform:scaleX(0.6670);-webkit-text-stroke:0.3px #fff;">,</div>
<div class="n" style="left:476.83px;top:628.00px;height:53.16px;line-height:53.16px;font-size:44.3px;transform:scaleX(0.6670);-webkit-text-stroke:0.3px #fff;">2</div>
<div class="n" style="left:494.82px;top:628.00px;height:53.16px;line-height:53.16px;font-size:44.3px;transform:scaleX(0.6670);-webkit-text-stroke:0.3px #fff;">7</div>
<svg style="position:absolute;left:546px;top:621px" width="122" height="62"><polygon points="29.35,17.10 31.35,17.10 31.35,44.90 34.85,44.90 34.85,47.00 24.75,47.00 24.75,44.90 28.65,44.90 28.65,19.60 24.65,21.20 24.65,19.50" fill="#000"/></svg>
<div class="n" style="left:585.76px;top:628.00px;height:53.16px;line-height:53.16px;font-size:44.3px;transform:scaleX(0.6670);-webkit-text-stroke:0.3px #fff;">5</div>
<div class="n" style="left:603.40px;top:628.00px;height:53.16px;line-height:53.16px;font-size:44.3px;transform:scaleX(0.6670);-webkit-text-stroke:0.3px #fff;">,</div>
<div class="n" style="left:612.84px;top:628.00px;height:53.16px;line-height:53.16px;font-size:44.3px;transform:scaleX(0.6670);-webkit-text-stroke:0.3px #fff;">9</div>
<div class="n" style="left:630.84px;top:628.00px;height:53.16px;line-height:53.16px;font-size:44.3px;transform:scaleX(0.6670);-webkit-text-stroke:0.3px #fff;">9</div>
</body></html>
